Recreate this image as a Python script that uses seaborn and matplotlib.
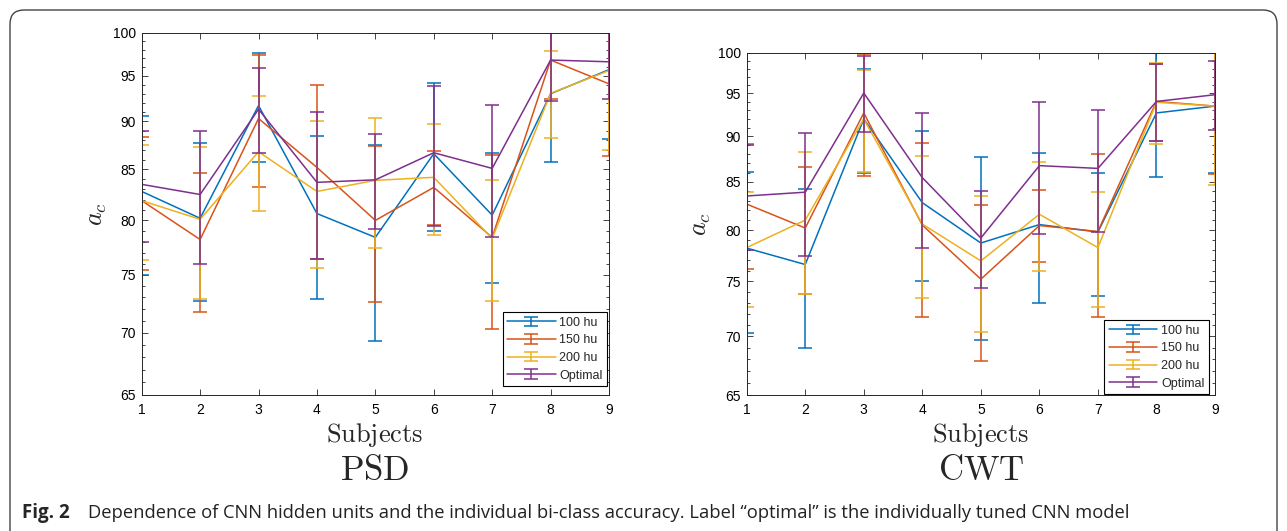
import numpy as np
import pandas as pd
import matplotlib
matplotlib.use('Agg')
import matplotlib.pyplot as plt
import matplotlib.ticker as mticker
from matplotlib.patches import FancyBboxPatch
from matplotlib.transforms import IdentityTransform
from matplotlib.legend_handler import HandlerErrorbar
from matplotlib.container import ErrorbarContainer
import seaborn as sns

# dữ liệu
subjects = [1, 2, 3, 4, 5, 6, 7, 8, 9]
models = ['100 hu', '150 hu', '200 hu', 'Optimal']
colors = ['#0072BD', '#D95319', '#EDB120', '#7E2F8E']

# PSD
psd_100 = [82.8, 80.2, 91.7, 80.65, 78.4, 86.6, 80.5, 93.0, 95.7]
psd_100_err = [7.8, 7.5, 5.9, 7.75, 9.1, 7.6, 6.2, 7.2, 7.6]
psd_150 = [81.9, 78.2, 90.3, 85.2, 80.0, 83.2, 78.4, 96.8, 94.1]
psd_150_err = [6.45, 6.45, 7.1, 8.75, 7.4, 3.65, 8.1, 4.4, 7.7]
psd_200 = [81.9, 80.1, 86.8, 82.8, 83.9, 84.2, 78.3, 93.05, 95.6]
psd_200_err = [5.6, 7.2, 5.9, 7.2, 6.5, 5.55, 5.6, 4.85, 8.6]
psd_opt = [83.5, 82.5, 91.3, 83.7, 83.95, 86.7, 85.1, 96.8, 96.6]
psd_opt_err = [5.5, 6.5, 4.6, 7.3, 4.75, 7.2, 6.7, 4.6, 4.2]

# CWT
cwt_100 = [78.2, 76.6, 92.0, 82.8, 78.7, 80.55, 79.8, 92.7, 93.5]
cwt_100_err = [7.9, 7.6, 6.0, 7.8, 9.0, 7.55, 6.2, 7.2, 7.5]
cwt_150 = [82.65, 80.2, 92.7, 80.5, 75.2, 80.45, 79.85, 94.05, 93.5]
cwt_150_err = [6.45, 6.4, 7.1, 8.8, 7.4, 3.65, 8.15, 4.55, 7.7]
cwt_200 = [78.25, 81.0, 92.0, 80.6, 76.95, 81.6, 78.25, 93.95, 93.5]
cwt_200_err = [5.65, 7.2, 5.9, 7.2, 6.55, 5.6, 5.65, 4.75, 8.8]
cwt_opt = [83.5, 83.9, 95.05, 85.45, 79.2, 86.75, 86.45, 94.05, 94.85]
cwt_opt_err = [5.5, 6.5, 4.55, 7.25, 4.8, 7.2, 6.65, 4.6, 4.15]

sns.set_style('ticks')
plt.rcParams['font.family'] = ['Liberation Sans', 'DejaVu Sans']
plt.rcParams['mathtext.fontset'] = 'cm'

W, H = 1287, 531
fig = plt.figure(figsize=(W / 100, H / 100), dpi=100)


def px(x0, y0, x1, y1):
    return [x0 / W, 1 - y1 / H, (x1 - x0) / W, (y1 - y0) / H]


def draw_panel(ax, means, errs, leg_anchor):
    df = pd.DataFrame({
        'subject': np.tile(subjects, len(models)),
        'acc': np.concatenate(means),
        'model': np.repeat(models, len(subjects)),
    })
    sns.lineplot(data=df, x='subject', y='acc', hue='model', palette=colors,
                 legend=False, linewidth=1.1, ax=ax)
    lines = ax.get_lines()
    handles = []
    for i, (m, e, c) in enumerate(zip(means, errs, colors)):
        lines[i].set_zorder(2 + i * 0.1)
        cont = ax.errorbar(subjects, m, yerr=e, fmt='none', ecolor=c,
                           elinewidth=1.1, capsize=5, capthick=1.1,
                           zorder=2 + i * 0.1)
        handles.append((lines[i], cont))
    ax.set_yscale('log')
    ax.set_ylim(65, 100)
    ax.set_xlim(1, 9)
    ax.set_xticks(subjects)
    ax.set_yticks(range(65, 101, 5))
    ax.set_yticks(range(65, 101), minor=True)
    ax.yaxis.set_major_formatter(mticker.FormatStrFormatter('%d'))
    ax.yaxis.set_minor_formatter(mticker.NullFormatter())
    ax.set_xlabel('')
    ax.set_ylabel('')
    ax.tick_params(which='both', direction='in', top=True, right=True,
                   width=0.6, colors='#262626', labelcolor='black')
    ax.tick_params(which='major', length=4, labelsize=10)
    ax.tick_params(which='minor', length=2.5)
    ax.tick_params(axis='x', pad=6)
    ax.tick_params(axis='y', pad=4)
    for s in ax.spines.values():
        s.set_linewidth(0.7)
        s.set_color('#262626')
    leg = ax.legend(handles, models, loc='lower right', bbox_to_anchor=leg_anchor,
                    borderaxespad=0, fontsize=9, handlelength=3.9,
                    handletextpad=0.3, borderpad=0.35, labelspacing=0.45,
                    fancybox=False, framealpha=1,
                    handler_map={ErrorbarContainer: HandlerErrorbar(yerr_size=0.38)})
    leg.get_frame().set_edgecolor('black')
    leg.get_frame().set_linewidth(0.8)


ax1 = fig.add_axes(px(141.7, 32.7, 609, 395))
draw_panel(ax1, [psd_100, psd_150, psd_200, psd_opt],
           [psd_100_err, psd_150_err, psd_200_err, psd_opt_err], (0.996, 0.025))

ax2 = fig.add_axes(px(746.7, 52.7, 1215, 395))
draw_panel(ax2, [cwt_100, cwt_150, cwt_200, cwt_opt],
           [cwt_100_err, cwt_150_err, cwt_200_err, cwt_opt_err], (0.987, 0.003))

# nhãn trục và tiêu đề
for cx, t in [(375, 'PSD'), (981, 'CWT')]:
    fig.text(cx / W, 1 - 435 / H, r'$\mathrm{Subjects}$', ha='center', va='center', fontsize=19)
    fig.text(cx / W, 1 - 470 / H, r'$\mathrm{%s}$' % t, ha='center', va='center', fontsize=25)
for x, cy in zip([97, 701], [214, 224]):
    fig.text(x / W, 1 - cy / H, r'$a_c$', rotation=90, ha='center', va='center', fontsize=19)

# chú thích hình
fig.text(22 / W, 1 - 513 / H, 'Fig. 2', fontweight='bold', fontsize=13.5,
         family=['Open Sans', 'DejaVu Sans'], va='center')
fig.text(88 / W, 1 - 513 / H,
         'Dependence of CNN hidden units and the individual bi-class accuracy. '
         'Label \u201coptimal\u201d is the individually tuned CNN model',
         fontsize=13.2, family=['Open Sans', 'DejaVu Sans'], va='center', color='#222222')

frame = FancyBboxPatch((10, -30), W - 20, H - 10 + 30, boxstyle='round,pad=0,rounding_size=14',
                       transform=IdentityTransform(), fill=False, edgecolor='#444444', linewidth=1.0)
fig.add_artist(frame)

plt.savefig('out.png', dpi=100)
